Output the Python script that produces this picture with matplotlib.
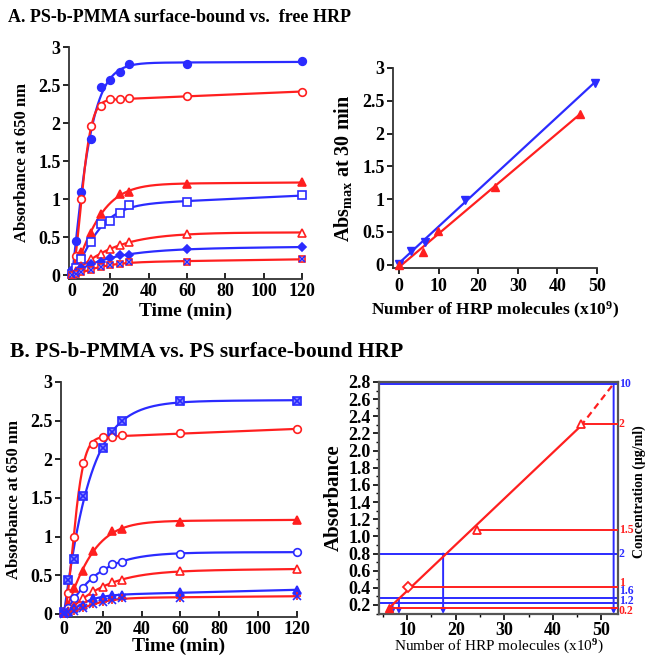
import numpy as np
import matplotlib
matplotlib.use('Agg')
import matplotlib.pyplot as plt
from matplotlib.transforms import blended_transform_factory
from matplotlib.ticker import MultipleLocator

RED = '#ff1f1f'
BLUE = '#2b2bff'
nan = np.nan

plt.rcParams['font.family'] = ['Liberation Serif', 'DejaVu Serif']
plt.rcParams['font.weight'] = 'bold'
plt.rcParams['axes.labelweight'] = 'bold'
plt.rcParams['mathtext.fontset'] = 'custom'
plt.rcParams['mathtext.rm'] = 'Liberation Serif:bold'
plt.rcParams['mathtext.it'] = 'Liberation Serif:bold'
plt.rcParams['mathtext.bf'] = 'Liberation Serif:bold'

# ---------------- data ----------------
time_min = [0, 2, 5, 10, 15, 20, 25, 30, 60, 120]

# Panel A left: PS-b-PMMA surface-bound vs free HRP kinetics
A_blue_fcircle = [0.07, 0.45, 1.10, 1.79, 2.47, 2.57, 2.67, 2.77, 2.78, 2.81]
A_red_ocircle = [0.02, 0.25, 1.00, 1.96, 2.22, 2.31, 2.31, 2.33, 2.36, 2.41]
A_red_ftri = [0.02, 0.12, 0.30, 0.55, 0.80, nan, 1.07, 1.10, 1.20, 1.22]
A_blue_osquare = [0.02, 0.10, 0.21, 0.43, 0.67, 0.71, 0.82, 0.92, 0.96, 1.05]
A_red_otri = [0.01, 0.05, 0.12, 0.21, 0.28, 0.34, 0.40, 0.43, 0.54, 0.56]
A_blue_diamond = [0.01, 0.03, 0.09, 0.15, 0.18, 0.23, 0.26, 0.27, 0.34, 0.37]
A_lowest = [0.00, 0.02, 0.04, 0.07, 0.11, 0.13, 0.15, 0.17, 0.18, 0.21]

# Panel A right: Abs max at 30 min vs number of HRP molecules
A_blue_n = [0.0, 3.1, 6.5, 16.6, 49.4]
A_blue_abs = [0.015, 0.21, 0.35, 0.99, 2.77]
A_red_n = [0.0, 6.1, 9.9, 24.2, 45.6]
A_red_abs = [0.0, 0.20, 0.51, 1.18, 2.30]

# Panel B left: PS-b-PMMA vs PS surface-bound HRP kinetics
B_blue_square = [0.03, 0.44, 0.71, 1.53, nan, 2.15, 2.35, 2.50, 2.75, 2.76]
B_red_ocircle = [0.02, 0.27, 1.00, 1.95, 2.20, 2.29, 2.29, 2.31, 2.34, 2.39]
B_red_ftri = [0.02, 0.12, 0.33, 0.56, 0.81, nan, 1.07, 1.10, 1.19, 1.22]
B_blue_ocircle = [0.02, 0.08, 0.20, 0.33, 0.47, 0.57, 0.65, 0.67, 0.78, 0.80]
B_red_otri = [0.01, 0.04, 0.10, 0.20, 0.29, 0.35, 0.41, 0.44, 0.55, 0.58]
B_blue_ftri = [0.01, 0.03, 0.07, 0.12, 0.21, 0.22, 0.24, 0.24, 0.28, 0.31]
B_lowest = [0.00, 0.02, 0.04, 0.07, 0.13, 0.15, 0.18, 0.20, 0.21, 0.23]

# Panel B right: calibration
red_n = [6.3, 10.2, 24.3, 45.7]
red_abs = [0.17, 0.41, 1.07, 2.31]
red_conc = ['0.2', '1', '1.5', '2']
blue_n = [7.0, 8.3, 17.4, 52.5]
blue_abs = [0.22, 0.28, 0.80, 2.78]
blue_conc = ['1.2', '1.6', '2', '10']

# tick labels
kin_xticks = [0, 20, 40, 60, 80, 100, 120]
abs_yticks = [0, 0.5, 1, 1.5, 2, 2.5, 3]
abs_ylabels = ['0', '0.5', '1', '1.5', '2', '2.5', '3']
n_xticks = [0, 10, 20, 30, 40, 50]
cal_xticks = [10, 20, 30, 40, 50]
cal_yticks = [0.2, 0.4, 0.6, 0.8, 1.0, 1.2, 1.4, 1.6, 1.8, 2.0, 2.2, 2.4, 2.6, 2.8]
cal_ylabels = ['0.2', '0.4', '0.6', '0.8', '1.0', '1.2', '1.4', '1.6', '1.8',
               '2.0', '2.2', '2.4', '2.6', '2.8']

# ---------------- helpers ----------------
W, H = 645, 658
fig = plt.figure(figsize=(W / 100, H / 100), dpi=100)
TICKFONT = dict(fontsize=13, fontweight='bold')


def add_ax(l, r, top, bottom):
    return fig.add_axes([l / W, 1 - bottom / H, (r - l) / W, (bottom - top) / H])


def fit_curve(t, y):
    t = np.asarray(t, float)
    y = np.asarray(y, float)
    m = ~np.isnan(y)
    t, y = t[m], y[m]
    best = None
    for tau in np.linspace(1, 60, 200):
        for n in np.linspace(0.6, 2.5, 39):
            f = 1 - np.exp(-(t / tau) ** n)
            A = np.vstack([f, t / 120.0]).T
            coef, *_ = np.linalg.lstsq(A, y, rcond=None)
            if coef[1] < 0:
                coef = np.array([np.dot(f, y) / np.dot(f, f), 0.0])
            err = np.sum((A @ coef - y) ** 2)
            if best is None or err < best[0]:
                best = (err, coef, tau, n)
    _, coef, tau, n = best
    tt = np.linspace(0, 120, 400)
    return tt, coef[0] * (1 - np.exp(-(tt / tau) ** n)) + coef[1] * tt / 120.0


def kin_series(ax, y, color, marker, mfc, ms=5.5, extra=None):
    tt, yy = fit_curve(time_min, y)
    ax.plot(tt, yy, color=color, lw=1.6, clip_on=False, zorder=2)
    ax.plot(time_min, y, ls='none', marker=marker, ms=ms, mfc=mfc, mec=color,
            mew=1.2, clip_on=False, zorder=3)
    if extra is not None:
        ax.plot(time_min, y, ls='none', marker=extra[0], ms=ms, mfc='none',
                mec=extra[1], mew=1.2, clip_on=False, zorder=4)


def style_kin(ax, xticks, xdir='in'):
    ax.set_xticks(xticks, [str(v) for v in xticks], **TICKFONT)
    ax.set_yticks(abs_yticks, abs_ylabels, **TICKFONT)
    for s in ['top', 'right']:
        ax.spines[s].set_visible(False)
    for s in ['left', 'bottom']:
        ax.spines[s].set_linewidth(1.3)
        ax.spines[s].set_color('#333333')
    ax.tick_params(axis='y', direction='out', length=4, width=1.2, pad=2)
    ax.tick_params(axis='x', direction=xdir, length=4, width=1.2, pad=3)


# ---------------- Panel A left ----------------
ax1 = add_ax(69, 302, 47, 279)
kin_series(ax1, A_blue_fcircle, BLUE, 'o', BLUE)
kin_series(ax1, A_red_ocircle, RED, 'o', 'white')
kin_series(ax1, A_red_ftri, RED, '^', RED)
kin_series(ax1, A_blue_osquare, BLUE, 's', 'white')
kin_series(ax1, A_red_otri, RED, '^', 'white')
kin_series(ax1, A_blue_diamond, BLUE, 'D', BLUE, ms=4.5)
kin_series(ax1, A_lowest, RED, 's', 'white', ms=5, extra=('x', BLUE))
ax1.set_xlim(-1.5, 120)
ax1.set_ylim(-0.05, 3.0)
style_kin(ax1, kin_xticks)
ax1.set_xlabel('Time (min)', fontsize=14, labelpad=2)
ax1.set_ylabel('Absorbance at 650 nm', fontsize=12, labelpad=6)

# ---------------- Panel A right ----------------
ax2 = add_ax(393, 597, 68, 268)
for xs, ys, c, mk in [(A_blue_n, A_blue_abs, BLUE, 'v'), (A_red_n, A_red_abs, RED, '^')]:
    k, b = np.polyfit(xs, ys, 1)
    xx = np.array([min(xs), max(xs)])
    ax2.plot(xx, k * xx + b, color=c, lw=1.6, clip_on=False, zorder=2)
    ax2.plot(xs, ys, ls='none', marker=mk, ms=5.5, color=c, clip_on=False, zorder=3)
ax2.set_xlim(-1.5, 50)
ax2.set_ylim(-0.05, 3.0)
style_kin(ax2, n_xticks, xdir='out')
ax2.set_xlabel('Number of HRP molecules (x10$^{9}$)', fontsize=12.5, labelpad=4)
ax2.set_ylabel('Abs$_{\\rm max}$ at 30 min', fontsize=14.5, labelpad=6)

# ---------------- Panel B left ----------------
ax3 = add_ax(61, 297, 382, 617)
kin_series(ax3, B_blue_square, BLUE, 's', '#8a8aff', extra=('x', BLUE))
kin_series(ax3, B_red_ocircle, RED, 'o', 'white')
kin_series(ax3, B_red_ftri, RED, '^', RED)
kin_series(ax3, B_blue_ocircle, BLUE, 'o', 'white')
kin_series(ax3, B_red_otri, RED, '^', 'white')
kin_series(ax3, B_blue_ftri, BLUE, '^', BLUE)
kin_series(ax3, B_lowest, RED, '+', RED, extra=('x', BLUE))
ax3.set_xlim(-1.5, 120)
ax3.set_ylim(-0.04, 3.0)
style_kin(ax3, kin_xticks)
ax3.set_xlabel('Time (min)', fontsize=14, labelpad=0)
ax3.set_ylabel('Absorbance at 650 nm', fontsize=12, labelpad=6)

# ---------------- Panel B right ----------------
ax4 = add_ax(379, 618, 382, 614)
ax4.set_xlim(4.2, 53.4)
ax4.set_ylim(0.095, 2.8)
xmax = 53.4
for xn, ya in zip(blue_n, blue_abs):
    ax4.axhline(ya, color=BLUE, lw=1.4, zorder=2)
    ax4.annotate('', xy=(xn, 0.095), xytext=(xn, ya),
                 arrowprops=dict(arrowstyle='-|>', color=BLUE, lw=1.4,
                                 mutation_scale=7, shrinkA=0, shrinkB=0), zorder=2)
k, b = np.polyfit(red_n, red_abs, 1)
xx = np.array([red_n[0], red_n[-1]])
ax4.plot(xx, k * xx + b, color=RED, lw=1.6, zorder=3)
ax4.plot([red_n[-1], blue_n[-1]], [k * red_n[-1] + b, blue_abs[-1]], color=RED,
         lw=1.6, ls=(0, (3, 2)), zorder=3)
for xn, ya in zip(red_n, red_abs):
    ax4.plot([xn, xmax], [ya, ya], color=RED, lw=1.4, zorder=3)
ax4.plot(red_n[0], red_abs[0], ls='none', marker='^', ms=6, color=RED, zorder=4)
ax4.plot(red_n[1], red_abs[1], ls='none', marker='D', ms=5, mfc='white', mec=RED, mew=1.3, zorder=4)
ax4.plot(red_n[2:], red_abs[2:], ls='none', marker='^', ms=6, mfc='white', mec=RED, mew=1.3, zorder=4)

ax4.set_xticks(cal_xticks, [str(v) for v in cal_xticks], **TICKFONT)
ax4.set_yticks(cal_yticks, cal_ylabels, **TICKFONT)
ax4.yaxis.set_minor_locator(MultipleLocator(0.1))
ax4.xaxis.set_minor_locator(MultipleLocator(5))
ax4.tick_params(axis='both', which='major', direction='out', length=4, width=1.2, pad=2)
ax4.tick_params(axis='both', which='minor', direction='out', length=2, width=1.0)
for s in ax4.spines.values():
    s.set_linewidth(1.6)
    s.set_color('#555555')
ax4.set_xlabel('Number of HRP molecules (x10$^{9}$)', fontsize=11, labelpad=-1)
ax4.xaxis.label.set_fontweight('normal')
ax4.set_ylabel('Absorbance', fontsize=15, labelpad=3)

tr = blended_transform_factory(ax4.transAxes, ax4.transData)
label_offsets = {'10': 0.0, '2r': 0.0, '1.5': 0.0, '2b': 0.0, '1': 0.05,
                 '1.6': 0.08, '1.2': 0.03, '0.2': -0.035}
for lab, ya in zip(red_conc, red_abs):
    key = '2r' if lab == '2' else lab
    ax4.text(1.004, ya + label_offsets[key], lab, transform=tr, color=RED,
             fontsize=8.5, va='center', ha='left')
for lab, ya in zip(blue_conc, blue_abs):
    key = '2b' if lab == '2' else lab
    ax4.text(1.004, ya + label_offsets[key], lab, transform=tr, color=BLUE,
             fontsize=8.5, va='center', ha='left')
fig.text(639 / W, 1 - 492 / H, 'Concentration (\u03bcg/ml)', rotation=90,
         fontsize=10, ha='center', va='center')

# ---------------- titles ----------------
fig.text(8 / W, 1 - 18 / H, 'A. PS-b-PMMA surface-bound vs.  free HRP',
         fontsize=13, ha='left', va='center')
fig.text(10 / W, 1 - 352 / H, 'B. PS-b-PMMA vs. PS surface-bound HRP',
         fontsize=15.5, ha='left', va='center')

fig.savefig('out.png', dpi=100)
